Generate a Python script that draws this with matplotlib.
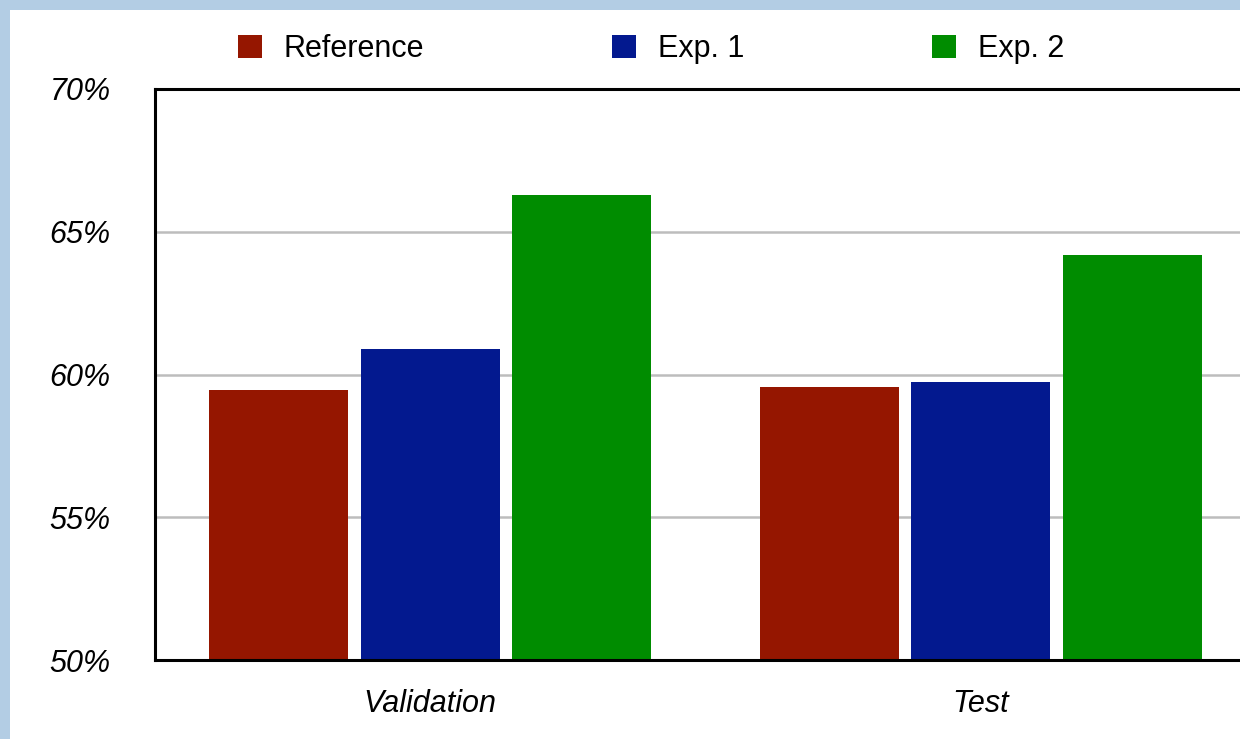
import numpy as np
import matplotlib
matplotlib.use("Agg")
import matplotlib.pyplot as plt
from matplotlib.patches import Rectangle

plt.rcParams['font.family'] = ['Liberation Sans', 'DejaVu Sans']

# data
categories = ['Validation', 'Test']
series_names = ['Reference', 'Exp. 1', 'Exp. 2']
reference = [59.45, 59.55]
exp1 = [60.9, 59.75]
exp2 = [66.3, 64.2]
y_ticks = [50, 55, 60, 65, 70]
y_tick_labels = ['50%', '55%', '60%', '65%', '70%']

colors = ['#951600', '#03198f', '#008c00']
fs = 22

fig = plt.figure(figsize=(12.4, 7.39), dpi=100, facecolor='#b3cde4')
# white panel inside the light blue frame
fig.patches.append(Rectangle((10 / 1240, 0), 1, 1 - 10 / 739,
                             transform=fig.transFigure, facecolor='white',
                             edgecolor='none', zorder=-10))

ax = fig.add_axes([155 / 1240, 1 - 660 / 739, 1101 / 1240, 571 / 739])
ax.set_facecolor('none')

x = np.arange(len(categories))
width = 0.252
offset = 0.275
for i, (vals, name) in enumerate(zip([reference, exp1, exp2], series_names)):
    ax.bar(x + (i - 1) * offset, [v - 50 for v in vals], width, bottom=50,
           color=colors[i], label=name, zorder=3)

ax.set_xlim(-0.5, 1.5)
ax.set_ylim(50, 70)
ax.set_yticks(y_ticks)
ax.set_yticklabels(y_tick_labels, fontsize=fs, fontstyle='italic')
ax.set_xticks(x)
ax.set_xticklabels(categories, fontsize=fs, fontstyle='italic')
ax.tick_params(axis='y', length=0, pad=32)
ax.tick_params(axis='x', length=0, pad=21)

ax.grid(axis='y', color='#bdbdbd', linewidth=1.8, zorder=1)
for s in ['left', 'top', 'bottom']:
    ax.spines[s].set_linewidth(2.2)
    ax.spines[s].set_color('black')
    ax.spines[s].set_zorder(4)
ax.spines['right'].set_visible(False)

fig.legend(loc='center left', bbox_to_anchor=(238 / 1240, 1 - 49 / 739),
           ncol=3, frameon=False, fontsize=fs, borderpad=0, borderaxespad=0,
           handlelength=0.78, handleheight=0.78, handletextpad=0.72,
           columnspacing=6.15)

plt.savefig('out.png', dpi=100, facecolor=fig.get_facecolor())
plt.close()
